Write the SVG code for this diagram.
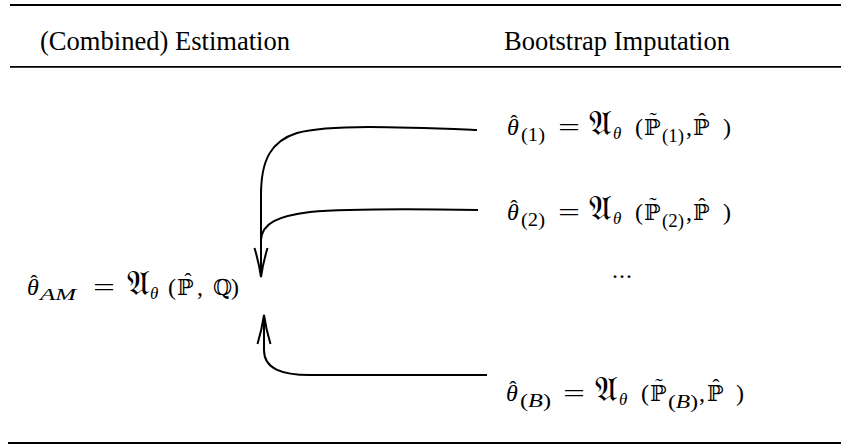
<svg xmlns="http://www.w3.org/2000/svg" width="841" height="446" viewBox="0 0 841 446">
<style>
.rule{stroke:#000;stroke-width:1.8;fill:none}
.hdr{font-size:28px;fill:#000}
.m{font-size:24px;fill:#000}
.mi{font-size:24px;font-style:italic;fill:#000}
.s{font-size:18px;fill:#000}
.si{font-size:17px;font-style:italic;fill:#000}
.bb{font-size:22px;fill:#000}
.fr{font-size:34px;fill:#000}
.acc{font-size:22px;fill:#000;text-anchor:middle}
.conn{stroke:#000;stroke-width:2;fill:none}
</style>
<defs>
<marker id="arr" markerUnits="userSpaceOnUse" viewBox="-31 -8 33 16" markerWidth="33" markerHeight="16" refX="0" refY="0" orient="auto" overflow="visible">
<path d="M -29 -6.5 Q -14 -2 0 0 Q -14 2 -29 6.5" stroke="#000" stroke-width="2" fill="none"/>
</marker>
</defs>
<g id="rules">
<line class="rule" x1="10" y1="5" x2="841" y2="5"/>
<line class="rule" x1="10" y1="66.8" x2="841" y2="66.8"/>
<line class="rule" x1="8" y1="443" x2="841" y2="443"/>
</g>
<g font-family="'Liberation Serif', Tinos, 'Times New Roman', 'DejaVu Serif', serif">
<g id="header-left"><text class="hdr" x="40" y="50" textLength="250" lengthAdjust="spacingAndGlyphs">(Combined) Estimation</text></g>
<g id="header-right"><text class="hdr" x="504" y="50" textLength="226" lengthAdjust="spacingAndGlyphs">Bootstrap Imputation</text></g>

<g id="node-am">
<text class="mi" x="27" y="295">θ</text><text class="acc" x="34" y="290">ˆ</text>
<text class="si" x="40" y="300" textLength="36" lengthAdjust="spacingAndGlyphs">AM</text>
<text class="m" x="93" y="295" textLength="22" lengthAdjust="spacingAndGlyphs">=</text>
<text class="fr" x="127" y="295" font-family="'DejaVu Serif','DejaVu Sans',serif">𝔄</text>
<text class="si" x="150" y="299">θ</text>
<text class="m" x="168" y="295">(</text>
<text class="bb" x="177" y="295" font-family="'DejaVu Serif','DejaVu Sans',serif">ℙ</text><text class="acc" x="188" y="288">ˆ</text>
<text class="m" x="197" y="295">,</text>
<text class="bb" x="213" y="295" font-family="'DejaVu Serif','DejaVu Sans',serif">ℚ</text>
<text class="m" x="231" y="295">)</text>
</g>

<g id="node-1">
<text class="mi" x="507" y="135">θ</text><text class="acc" x="514" y="130">ˆ</text>
<text class="s" x="521" y="141" textLength="24" lengthAdjust="spacingAndGlyphs">(1)</text>
<text class="m" x="558" y="135" textLength="22" lengthAdjust="spacingAndGlyphs">=</text>
<text class="fr" x="589" y="135" font-family="'DejaVu Serif','DejaVu Sans',serif">𝔄</text>
<text class="si" x="613" y="139">θ</text>
<text class="m" x="635" y="135">(</text>
<text class="bb" x="644" y="135" font-family="'DejaVu Serif','DejaVu Sans',serif">ℙ</text><text class="acc" x="653" y="127">˜</text>
<text class="s" x="662" y="142" textLength="22" lengthAdjust="spacingAndGlyphs">(1)</text>
<text class="m" x="686" y="135">,</text>
<text class="bb" x="693" y="135" font-family="'DejaVu Serif','DejaVu Sans',serif">ℙ</text><text class="acc" x="702" y="128">ˆ</text>
<text class="m" x="723" y="135">)</text>
</g>

<g id="node-2">
<text class="mi" x="507" y="220">θ</text><text class="acc" x="514" y="215">ˆ</text>
<text class="s" x="521" y="226" textLength="24" lengthAdjust="spacingAndGlyphs">(2)</text>
<text class="m" x="558" y="220" textLength="22" lengthAdjust="spacingAndGlyphs">=</text>
<text class="fr" x="589" y="220" font-family="'DejaVu Serif','DejaVu Sans',serif">𝔄</text>
<text class="si" x="613" y="224">θ</text>
<text class="m" x="635" y="220">(</text>
<text class="bb" x="644" y="220" font-family="'DejaVu Serif','DejaVu Sans',serif">ℙ</text><text class="acc" x="653" y="212">˜</text>
<text class="s" x="662" y="227" textLength="22" lengthAdjust="spacingAndGlyphs">(2)</text>
<text class="m" x="686" y="220">,</text>
<text class="bb" x="693" y="220" font-family="'DejaVu Serif','DejaVu Sans',serif">ℙ</text><text class="acc" x="702" y="213">ˆ</text>
<text class="m" x="723" y="220">)</text>
</g>

<g id="node-dots"><text class="m" x="612" y="278" letter-spacing="1">...</text></g>

<g id="node-b">
<text class="mi" x="506" y="401">θ</text><text class="acc" x="513" y="396">ˆ</text>
<text class="s" x="520" y="407" textLength="31" lengthAdjust="spacingAndGlyphs">(<tspan font-style="italic">B</tspan>)</text>
<text class="m" x="563" y="401" textLength="22" lengthAdjust="spacingAndGlyphs">=</text>
<text class="fr" x="595" y="401" font-family="'DejaVu Serif','DejaVu Sans',serif">𝔄</text>
<text class="si" x="619" y="405">θ</text>
<text class="m" x="641" y="401">(</text>
<text class="bb" x="650" y="401" font-family="'DejaVu Serif','DejaVu Sans',serif">ℙ</text><text class="acc" x="659" y="393">˜</text>
<text class="s" x="668" y="408" textLength="30" lengthAdjust="spacingAndGlyphs">(<tspan font-style="italic">B</tspan>)</text>
<text class="m" x="699" y="401">,</text>
<text class="bb" x="707" y="401" font-family="'DejaVu Serif','DejaVu Sans',serif">ℙ</text><text class="acc" x="716" y="394">ˆ</text>
<text class="m" x="736" y="401">)</text>
</g>
</g>

<g id="connectors">
<path class="conn" d="M 477 130 C 400 127, 330 124, 297 133 C 271 141, 261 160, 261 195 L 261 277" marker-end="url(#arr)"/>
<path class="conn" d="M 478 210 C 420 209, 355 208, 310 212 C 278 216, 262 223, 261 240"/>
<path class="conn" d="M 487 375 L 310 375 C 282 375, 264 369, 264 350 L 264 315" marker-end="url(#arr)"/>
</g>
</svg>
